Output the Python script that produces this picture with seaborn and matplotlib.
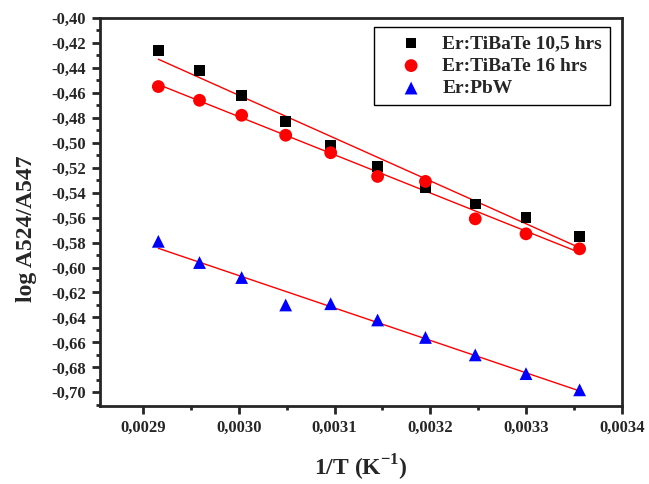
import numpy as np
import pandas as pd
import seaborn as sns
import matplotlib.pyplot as plt
from matplotlib.ticker import MultipleLocator, FuncFormatter


# data
inv_T = [0.002916, 0.002959, 0.003003, 0.003049, 0.003096,
         0.003145, 0.003195, 0.003247, 0.003300, 0.003356]

tibate_10h = [-0.426, -0.442, -0.462, -0.483, -0.502,
              -0.519, -0.536, -0.549, -0.560, -0.575]
tibate_16h = [-0.455, -0.466, -0.478, -0.494, -0.508,
              -0.527, -0.531, -0.561, -0.573, -0.585]
pbw = [-0.579, -0.596, -0.608, -0.630, -0.629,
       -0.642, -0.656, -0.670, -0.685, -0.698]

labels = ['Er:TiBaTe 10,5 hrs', 'Er:TiBaTe 16 hrs', 'Er:PbW']
colors = ['black', 'red', 'blue']
markers = ['s', 'o', '^']
sizes = [60, 85, 85]

df = pd.DataFrame({
    'x': inv_T * 3,
    'y': tibate_10h + tibate_16h + pbw,
    'sample': [labels[0]] * 10 + [labels[1]] * 10 + [labels[2]] * 10,
})

sns.set_style('ticks')
plt.rcParams['font.family'] = ['Liberation Serif', 'DejaVu Serif']
plt.rcParams['font.weight'] = 'bold'
plt.rcParams['mathtext.fontset'] = 'custom'
plt.rcParams['mathtext.rm'] = 'Liberation Serif:bold'

fig = plt.figure(figsize=(6.49, 4.84), dpi=100)
ax = fig.add_axes([0.154, 0.161, 0.804, 0.802])

# linear fits first so the markers sit on top
for lab in labels:
    sub = df[df['sample'] == lab]
    sns.regplot(data=sub, x='x', y='y', scatter=False, ci=None, truncate=True,
                color='red', line_kws={'linewidth': 1}, ax=ax)

for lab, c, m, s in zip(labels, colors, markers, sizes):
    sub = df[df['sample'] == lab]
    sns.scatterplot(data=sub, x='x', y='y', color=c, marker=m, s=s,
                    edgecolor='none', label=lab, ax=ax, zorder=3)

ax.set_xlim(0.002855, 0.0034)
ax.set_ylim(-0.711, -0.40)
ax.xaxis.set_major_locator(MultipleLocator(0.0001))
ax.xaxis.set_minor_locator(MultipleLocator(0.00005))
ax.yaxis.set_major_locator(MultipleLocator(0.02))
ax.yaxis.set_minor_locator(MultipleLocator(0.01))
ax.xaxis.set_major_formatter(FuncFormatter(lambda v, p: f"{v:.4f}".replace('.', ',')))
ax.yaxis.set_major_formatter(FuncFormatter(lambda v, p: f"{v:.2f}".replace('.', ',')))

ax.tick_params(axis='both', which='major', direction='out', length=6, width=2,
               labelsize=12, pad=4)
ax.tick_params(axis='both', which='minor', direction='out', length=3, width=2)
for sp in ax.spines.values():
    sp.set_linewidth(2)
    sp.set_visible(True)

ax.set_xlabel('1/T (K$^{\\mathrm{-1}}$)', fontsize=17, fontweight='bold', labelpad=12)
ax.set_ylabel('log A524/A547', fontsize=17, fontweight='bold')
ax.yaxis.set_label_coords(-0.121, 0.456)

leg = ax.legend(loc='upper right', fontsize=14, frameon=True, fancybox=False,
                edgecolor='black', framealpha=1, handlelength=3, handletextpad=0.1,
                borderpad=0.4, labelspacing=0.25, borderaxespad=0,
                bbox_to_anchor=(0.977, 0.977))
leg.get_frame().set_linewidth(1)

fig.savefig('out.png', dpi=100)
